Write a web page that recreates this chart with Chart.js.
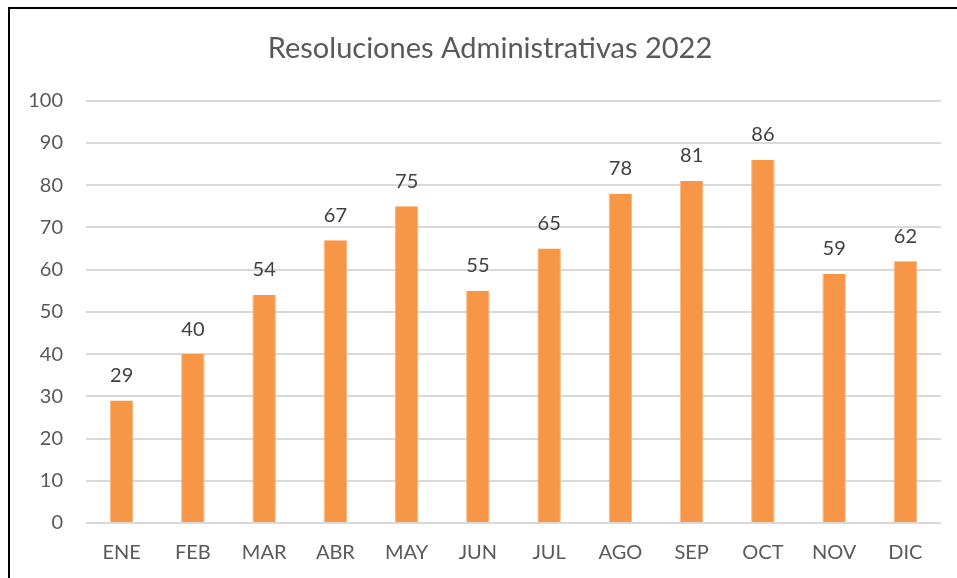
<!DOCTYPE html>
<html>
<head>
<meta charset="utf-8">
<script src="https://cdn.jsdelivr.net/npm/chart.js@4"></script>
<style>
  html, body { margin: 0; padding: 0; background: #fff; overflow: hidden; }
  .frame { position: absolute; left: 8px; top: 7px; width: 1100px; height: 700px; border: 2px solid #000; }
  .wrap { position: absolute; left: 0; top: 0; width: 957px; height: 578px; }
</style>
</head>
<body>
<div class="frame"></div>
<div class="wrap"><canvas id="chart" width="957" height="578"></canvas></div>
<script>
const months = ["ENE", "FEB", "MAR", "ABR", "MAY", "JUN", "JUL", "AGO", "SEP", "OCT", "NOV", "DIC"];
const resoluciones = [29, 40, 54, 67, 75, 55, 65, 78, 81, 86, 59, 62];
const yTicks = [0, 10, 20, 30, 40, 50, 60, 70, 80, 90, 100];

const fontFamily = "Lato, 'Open Sans', sans-serif";

// little plugin for the value labels on top of each bar
const barValues = {
    id: "barValues",
    afterDatasetsDraw(chart) {
        const ctx = chart.ctx;
        const meta = chart.getDatasetMeta(0);
        ctx.save();
        ctx.font = "20px " + fontFamily;
        ctx.fillStyle = "#404040";
        ctx.textAlign = "center";
        ctx.textBaseline = "middle";
        meta.data.forEach((bar, i) => {
            ctx.fillText(resoluciones[i], bar.x, bar.y - 25);
        });
        ctx.restore();
    },
};

new Chart(document.getElementById("chart"), {
    type: "bar",
    data: {
        labels: months,
        datasets: [
            {
                label: "Resoluciones",
                data: resoluciones,
                backgroundColor: "#F79646",
                borderColor: "#FBB47E",
                borderWidth: { left: 1, right: 1, top: 0, bottom: 0 },
                barPercentage: 0.33,
                categoryPercentage: 1,
                yAxisID: "y",
            },
        ],
    },
    options: {
        responsive: false,
        animation: false,
        // uneven side padding + an empty right axis keep the title centred like the original
        layout: { padding: { left: 25, right: 2, top: 0, bottom: 13 } },
        plugins: {
            legend: { display: false },
            tooltip: { enabled: false },
            title: {
                display: true,
                text: "Resoluciones Administrativas 2022",
                color: "#595959",
                font: { family: fontFamily, size: 29, weight: "normal" },
                padding: { top: 31, bottom: 35 },
            },
        },
        scales: {
            x: {
                afterFit(scale) { scale.height = 42; },
                grid: { display: false, drawTicks: false },
                border: { display: false },
                ticks: {
                    color: "#595959",
                    font: { family: fontFamily, size: 20 },
                    padding: 18,
                    maxRotation: 0,
                },
            },
            y: {
                min: 0,
                max: 100,
                afterFit(scale) { scale.width = 61; },
                afterBuildTicks(scale) { scale.ticks = yTicks.map(v => ({ value: v })); },
                grid: { color: "#D9D9D9", lineWidth: 2, drawTicks: false },
                border: { display: false },
                ticks: {
                    color: "#595959",
                    font: { family: fontFamily, size: 20 },
                    padding: 23,
                },
            },
            yRight: {
                position: "right",
                afterFit(scale) { scale.width = 14; },
                grid: { display: false },
                border: { display: false },
                ticks: { display: false },
            },
        },
    },
    plugins: [barValues],
});
</script>
</body>
</html>
